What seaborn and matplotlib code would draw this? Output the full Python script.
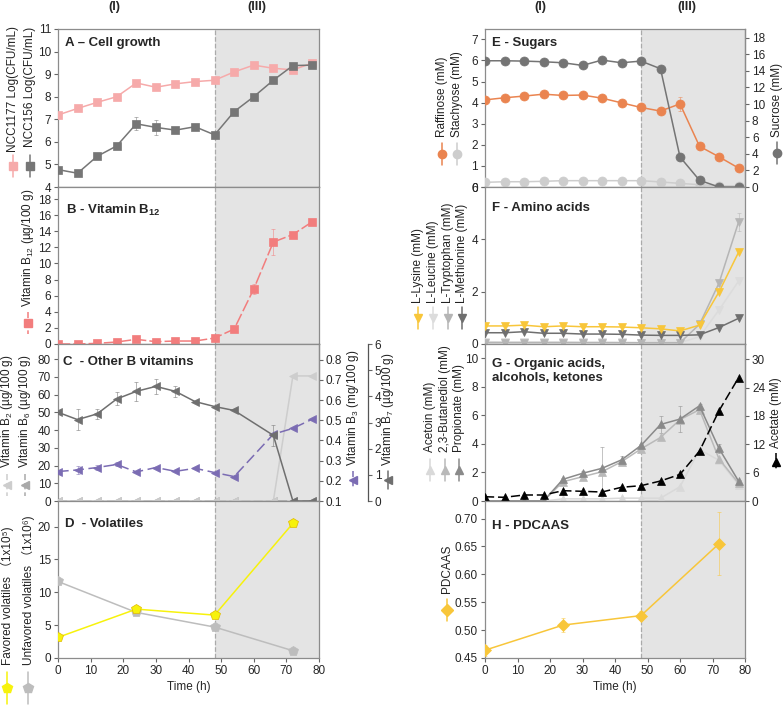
import matplotlib
matplotlib.use("Agg")
import matplotlib.pyplot as plt
from matplotlib.lines import Line2D
import seaborn as sns

# ---- data ----
t = [0, 6, 12, 18, 24, 30, 36, 42, 48, 54, 60, 66, 72, 78]
t_c = [0, 6, 12, 18, 24, 30, 36, 42, 48, 54, 66, 72, 78]
t_d = [0, 24, 48, 72]

ncc1177 = [7.19, 7.48, 7.75, 8.00, 8.61, 8.42, 8.57, 8.67, 8.73, 9.10, 9.40, 9.26, 9.19, 9.49]
ncc1177_err = [0.05, 0.05, 0.05, 0.05, 0.08, 0.05, 0.05, 0.05, 0.05, 0.05, 0.05, 0.05, 0.08, 0.05]
ncc156 = [4.77, 4.61, 5.36, 5.82, 6.80, 6.64, 6.52, 6.67, 6.31, 7.34, 8.00, 8.73, 9.38, 9.40]
ncc156_err = [0.05, 0.05, 0.12, 0.05, 0.28, 0.35, 0.08, 0.05, 0.05, 0.05, 0.05, 0.12, 0.05, 0.05]

b12 = [0.0, 0.0, 0.08, 0.25, 0.58, 0.29, 0.37, 0.37, 0.74, 1.86, 6.83, 12.66, 13.6, 15.2]
b12_err = [0, 0, 0, 0, 0.1, 0, 0, 0, 0, 0, 0.6, 1.6, 0.2, 0.2]

b2 = [0, 0, 0, 0, 0, 0, 0, 0, 0, 0, 0, 70.5, 70.5]
b6 = [0, 0, 0, 0, 0, 0, 0, 0, 0, 0, 0, 0, 0]
b3 = [0.246, 0.254, 0.266, 0.281, 0.244, 0.266, 0.247, 0.262, 0.241, 0.221, 0.431, 0.460, 0.506]
b3_err = [0, 0.02, 0.01, 0.01, 0, 0, 0, 0, 0, 0, 0, 0, 0]
b7 = [3.39, 3.11, 3.33, 3.90, 4.19, 4.38, 4.19, 3.80, 3.61, 3.46, 2.51, 0.0, 0.0]
b7_err = [0, 0.4, 0.2, 0.25, 0.35, 0.3, 0.2, 0, 0, 0, 0.4, 0, 0]

favored = [3.14, 7.44, 6.53, 20.5]
unfavored = [11.65, 6.94, 4.71, 1.11]

raffinose = [4.13, 4.23, 4.31, 4.40, 4.34, 4.36, 4.21, 3.99, 3.77, 3.60, 3.94, 1.93, 1.43, 0.90]
raffinose_err = [0, 0, 0, 0, 0, 0, 0, 0, 0, 0, 0.35, 0, 0.05, 0]
stachyose = [0.22, 0.25, 0.25, 0.27, 0.30, 0.30, 0.30, 0.30, 0.30, 0.24, 0.17, 0.11, 0.06, 0.05]
sucrose = [15.22, 15.22, 15.18, 15.10, 14.98, 14.66, 15.30, 14.98, 15.18, 14.26, 3.62, 0.81, 0.0, 0.0]

lysine = [0.69, 0.69, 0.72, 0.66, 0.69, 0.66, 0.66, 0.65, 0.62, 0.58, 0.50, 0.72, 1.99, 3.50]
leucine = [0.09, 0.08, 0.08, 0.08, 0.08, 0.07, 0.07, 0.06, 0.05, 0.05, 0.05, 0.28, 1.30, 2.40]
tryptophan = [0.05, 0.05, 0.05, 0.05, 0.05, 0.05, 0.05, 0.05, 0.05, 0.05, 0.05, 0.75, 2.33, 4.65]
tryptophan_err = [0, 0, 0, 0, 0, 0, 0, 0, 0, 0, 0, 0, 0.1, 0.35]
methionine = [0.43, 0.43, 0.47, 0.41, 0.41, 0.38, 0.38, 0.37, 0.34, 0.33, 0.33, 0.35, 0.63, 0.98]

acetoin = [0, 0, 0, 0, 0.15, 0.15, 0.15, 0.2, 0.2, 0.2, 1.0, 3.6, 2.85, 1.15]
butanediol = [0, 0, 0, 0, 1.35, 1.7, 2.05, 2.75, 3.65, 4.45, 5.7, 6.4, 2.95, 1.25]
propionate = [0, 0, 0, 0, 1.52, 1.94, 2.29, 2.88, 3.89, 5.36, 5.74, 6.67, 3.68, 1.40]
propionate_err = [0, 0, 0, 0, 0.1, 0.15, 1.5, 0.3, 0.1, 0.6, 0.9, 0.1, 0.3, 0.1]
acetate = [0.9, 0.78, 1.27, 1.27, 2.18, 2.05, 1.9, 2.9, 3.24, 4.23, 5.63, 10.56, 19.08, 26.05]

pdcaas = [0.464, 0.509, 0.526, 0.655]
pdcaas_err = [0.01, 0.012, 0.008, 0.056]

# ---- style ----
sns.set_style("ticks")
plt.rcParams["font.family"] = ["Liberation Sans", "DejaVu Sans", "Noto Sans CJK SC"]
plt.rcParams["mathtext.default"] = "regular"
plt.rcParams["axes.edgecolor"] = "#8c8c8c"
plt.rcParams["axes.linewidth"] = 0.9

W, H = 783, 706
fig = plt.figure(figsize=(W / 100, H / 100), dpi=100)

FS = 8.5


def rect(x0, x1, y0, y1):
    return [x0 / W, 1 - y1 / H, (x1 - x0) / W, (y1 - y0) / H]


def base_ax(r, bottom_ticks=False):
    ax = fig.add_axes(r)
    ax.set_xlim(0, 80)
    ax.axvspan(48, 80, color="#e4e4e4", zorder=0, lw=0)
    ax.axvline(48, color="#aaaaaa", ls="--", lw=0.9, zorder=0.5)
    ax.tick_params(labelsize=FS, length=3, width=0.8, color="#666666", pad=2)
    if bottom_ticks:
        ax.set_xticks(range(0, 81, 10))
        ax.set_xlabel("Time (h)", fontsize=FS, labelpad=3)
    else:
        ax.tick_params(axis="x", bottom=False, labelbottom=False)
        ax.spines["bottom"].set_color("#555555")
    for s in ax.spines.values():
        s.set_visible(True)
    return ax


def series(ax, x, y, color, marker, ms=6, ls="-", err=None, lw=1.1, mec=None):
    if err is not None:
        ax.errorbar(x, y, yerr=err, fmt="none", ecolor=color, elinewidth=0.6,
                    capsize=1.5, capthick=0.6, alpha=0.6, zorder=2)
    sns.lineplot(x=x, y=y, ax=ax, color=color, marker=marker, markersize=ms,
                 linestyle=ls, lw=lw, markeredgewidth=0.5,
                 markeredgecolor=mec or color, legend=False, zorder=3)


def title(ax, x, y, text):
    ax.text(x, y, text, transform=ax.transAxes, fontsize=9.5, fontweight="bold",
            ha="left", va="center", linespacing=1.15)


def vlabel(x, y_bot, y_icon, text, color, marker, ls="-", ms=6, half=11):
    fig.text(x / W, 1 - y_bot / H, text, rotation=90, ha="center", va="bottom",
             fontsize=FS, color="#222222")
    fig.add_artist(Line2D([x / W, x / W], [1 - (y_icon - half) / H, 1 - (y_icon + half) / H],
                          color=color, lw=1.1, ls=ls))
    fig.add_artist(Line2D([x / W], [1 - y_icon / H], marker=marker, ms=ms, color=color,
                          ls="none", mec=color))


def right_twin(ax):
    tw = ax.twinx()
    tw.set_xlim(0, 80)
    tw.tick_params(labelsize=FS, length=3, width=0.8, color="#666666", pad=2)
    for k in ["top", "bottom", "left"]:
        tw.spines[k].set_visible(False)
    return tw


# colours
pink = "#f6aaaa"
dgray = "#6f6f6f"
mgray = "#a9a9a9"
lgray = "#cdcdcd"
salmon = "#f27d7d"
purple = "#7b6cb3"
orange = "#ea8450"
gold = "#f8c63a"
yel = "#f7f20c"

# ---------- A ----------
axA = base_ax(rect(58, 319, 29, 187))
series(axA, t, ncc1177, pink, "s", err=ncc1177_err)
series(axA, t, ncc156, "#767676", "s", err=ncc156_err)
axA.set_ylim(4, 11)
axA.set_yticks(range(4, 12))
title(axA, 0.027, 0.911, "A – Cell growth")

# ---------- B ----------
axB = base_ax(rect(58, 319, 187, 344))
series(axB, t, b12, salmon, "s", ls=(0, (8, 2)), err=b12_err)
axB.set_ylim(0, 19.5)
axB.set_yticks(range(0, 19, 2))
title(axB, 0.03, 0.853, "B - Vitamin B$_{12}$")

# ---------- C ----------
axC = base_ax(rect(58, 319, 344, 501))
series(axC, t_c, b6, mgray, "<", ls=(0, (6, 2)))
series(axC, t_c, b2, lgray, "<")
axC.set_ylim(0, 88.5)
axC.set_yticks(range(0, 81, 10))
axC3 = right_twin(axC)
series(axC3, t_c, b3, purple, "<", ls=(0, (7, 3)), err=b3_err)
axC3.set_ylim(0.1, 0.878)
axC3.set_yticks([0.1, 0.2, 0.3, 0.4, 0.5, 0.6, 0.7, 0.8])
axC3.set_yticklabels(["0.1", "0.2", "0.3", "0.4", "0.5", "0.6", "0.7", "0.8"])
axC7 = right_twin(axC)
series(axC7, t_c, b7, dgray, "<", err=b7_err)
axC7.set_ylim(0, 6)
axC7.set_yticks(range(0, 7))
axC7.spines["right"].set_position(("outward", 35))
axC7.spines["right"].set_bounds(0, 6)
axC7.spines["right"].set_color("#555555")
title(axC, 0.02, 0.885, "C  - Other B vitamins")

# ---------- D ----------
axD = base_ax(rect(58, 319, 501, 658), bottom_ticks=True)
series(axD, t_d, unfavored, "#bdbdbd", "p", ms=7.5)
series(axD, t_d, favored, yel, "p", ms=7.5, mec="#e0b800")
axD.set_ylim(0, 23.9)
axD.set_yticks([0, 5, 10, 15, 20])
title(axD, 0.027, 0.853, "D  - Volatiles")

# ---------- E ----------
axE = base_ax(rect(485, 745, 29, 187))
series(axE, t, stachyose, lgray, "o", ms=6.5)
series(axE, t, raffinose, orange, "o", ms=6.5, err=raffinose_err)
axE.set_ylim(0, 7.49)
axE.set_yticks(range(0, 8))
axE2 = right_twin(axE)
series(axE2, t, sucrose, "#747474", "o", ms=6.5)
axE2.set_ylim(0, 19.05)
axE2.set_yticks(range(0, 19, 2))
title(axE, 0.027, 0.911, "E - Sugars")

# ---------- F ----------
axF = base_ax(rect(485, 745, 187, 344))
series(axF, t, leucine, "#dcdcdc", "v")
series(axF, t, tryptophan, "#b5b5b5", "v", err=tryptophan_err)
series(axF, t, methionine, dgray, "v")
series(axF, t, lysine, gold, "v")
axF.set_ylim(0, 6)
axF.set_yticks([0, 2, 4, 6])
title(axF, 0.027, 0.866, "F - Amino acids")

# ---------- G ----------
axG = base_ax(rect(485, 745, 344, 501))
series(axG, t, acetoin, "#d9d9d9", "^")
series(axG, t, butanediol, "#b9b9b9", "^")
series(axG, t, propionate, "#8a8a8a", "^", err=propionate_err)
axG.set_ylim(0, 11)
axG.set_yticks(range(0, 11, 2))
axG2 = right_twin(axG)
series(axG2, t, acetate, "black", "^", ls=(0, (6, 2.5)))
axG2.set_ylim(0, 33.2)
axG2.set_yticks(range(0, 31, 6))
title(axG, 0.027, 0.828, "G - Organic acids,\nalcohols, ketones")

# ---------- H ----------
axH = base_ax(rect(485, 745, 501, 658), bottom_ticks=True)
series(axH, t_d, pdcaas, gold, "D", ms=6.5, err=pdcaas_err)
axH.set_ylim(0.45, 0.7315)
axH.set_yticks([0.45, 0.50, 0.55, 0.60, 0.65, 0.70])
axH.set_yticklabels(["0.45", "0.50", "0.55", "0.60", "0.65", "0.70"])
title(axH, 0.027, 0.84, "H - PDCAAS")

# ---------- rotated axis labels with legend icons ----------
vlabel(13, 152, 166, "NCC1177 Log(CFU/mL)", pink, "s")
vlabel(30, 147, 166, "NCC156 Log(CFU/mL)", "#767676", "s")
vlabel(28, 307, 323, "Vitamin B$_{12}$ (µg/100 g)", salmon, "s", ls=(0, (4, 2)))
vlabel(7, 468, 485, "Vitamin B$_2$ (µg/100 g)", lgray, "<", ls=(0, (4, 2)))
vlabel(25, 468, 485, "Vitamin B$_6$ (µg/100 g)", mgray, "<", ls=(0, (4, 2)))
vlabel(353, 466, 480, "Vitamin B$_3$ (mg/100 g)", purple, "<", ls=(0, (4, 2)), half=9)
vlabel(388, 466, 480, "Vitamin B$_7$ (µg/100 g)", dgray, "<", half=9)
vlabel(7, 665, 688, "Favored volatiles （1x10⁵)", yel, "p", ms=7.5, half=16)
vlabel(28, 665, 688, "Unfavored volatiles （1x10⁶)", "#bdbdbd", "p", ms=7.5, half=16)

vlabel(442, 137, 154, "Raffinose (mM)", orange, "o")
vlabel(457, 137, 154, "Stachyose (mM)", lgray, "o")
vlabel(777, 137, 153, "Sucrose (mM)", "#747474", "o")
vlabel(418, 303, 318, "L-Lysine (mM)", gold, "v")
vlabel(433, 303, 318, "L-Leucine (mM)", "#dcdcdc", "v")
vlabel(448, 303, 318, "L-Tryptophan (mM)", "#b5b5b5", "v")
vlabel(462, 303, 318, "L-Methionine (mM)", dgray, "v")
vlabel(430, 452, 470, "Acetoin (mM)", "#d9d9d9", "^")
vlabel(445, 452, 470, "2,3-Butanediol (mM)", "#b9b9b9", "^")
vlabel(459, 452, 470, "Propionate (mM)", "#8a8a8a", "^")
vlabel(776, 448, 462, "Acetate (mM)", "black", "^", ls=(0, (4, 2)), half=9)
vlabel(447, 593, 610, "PDCAAS", gold, "D", ms=6.5)

# phase labels
for x, s in [(114, "(I)"), (257, "(III)"), (540, "(I)"), (687, "(III)")]:
    fig.text(x / W, 1 - 7 / H, s, ha="center", va="center", fontsize=9, fontweight="bold")

fig.savefig("out.png", dpi=100)
